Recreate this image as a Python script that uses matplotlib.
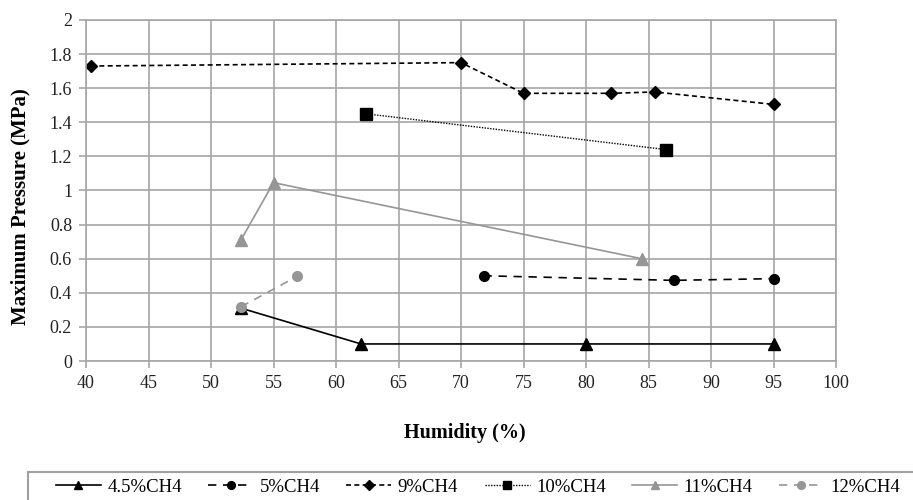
import matplotlib
matplotlib.use("Agg")
import matplotlib.pyplot as plt
from matplotlib.patches import Rectangle

x45 = [52.4, 62.0, 80.0, 95.0]
y45 = [0.31, 0.10, 0.10, 0.10]
x5 = [71.8, 87.0, 95.0]
y5 = [0.50, 0.473, 0.483]
x9 = [40.4, 70.0, 75.0, 82.0, 85.5, 95.0]
y9 = [1.73, 1.75, 1.57, 1.57, 1.578, 1.505]
x10 = [62.4, 86.4]
y10 = [1.45, 1.24]
x11 = [52.4, 55.0, 84.45]
y11 = [0.71, 1.046, 0.60]
x12 = [52.4, 56.9]
y12 = [0.318, 0.497]

labels = ["4.5%CH4", "5%CH4", "9%CH4", "10%CH4", "11%CH4", "12%CH4"]
xticks = [40, 45, 50, 55, 60, 65, 70, 75, 80, 85, 90, 95, 100]
yticks = [0, 0.2, 0.4, 0.6, 0.8, 1, 1.2, 1.4, 1.6, 1.8, 2]
yticklabels = ["0", "0.2", "0.4", "0.6", "0.8", "1", "1.2", "1.4", "1.6", "1.8", "2"]

plt.rcParams['font.family'] = ['Liberation Serif', 'DejaVu Serif']

fig = plt.figure(figsize=(9.13, 5.0), dpi=100)
ax = fig.add_axes([86/913, 1-361/500, 750/913, 341/500])

grid_c = '#a6a6a6'
ax.plot(x45, y45, color='black', lw=1.2, ls='-', marker='^', ms=8, label=labels[0])
ax.plot(x5, y5, color='black', lw=1.2, ls=(0, (5, 4)), marker='o', ms=7, label=labels[1])
ax.plot(x9, y9, color='black', lw=1.2, ls=(0, (3, 2)), marker='D', ms=6.5, label=labels[2])
ax.plot(x10, y10, color='black', lw=1.0, ls=(0, (1, 1)), marker='s', ms=8, label=labels[3])
ax.plot(x11, y11, color='#969696', lw=1.2, ls='-', marker='^', ms=8, label=labels[4])
ax.plot(x12, y12, color='#969696', lw=1.2, ls=(0, (5, 4)), marker='o', ms=7, label=labels[5])

ax.set_xlim(40, 100)
ax.set_ylim(0, 2)
ax.set_xticks(xticks)
ax.set_yticks(yticks)
ax.set_yticklabels(yticklabels)
ax.grid(True, color=grid_c, lw=1.2)
ax.set_axisbelow(True)
for s in ax.spines.values():
    s.set_color(grid_c)
    s.set_linewidth(1.2)
ax.tick_params(axis='both', colors=grid_c, labelcolor='#222222', labelsize=13, length=5, width=1.2)
ax.tick_params(axis='y', pad=5)
ax.tick_params(axis='x', pad=5)

fig.text(20/913, 1-207/500, "Maximum Pressure (MPa)", fontsize=15, fontweight='bold',
         rotation=90, ha='center', va='center')
fig.text(465/913, 1-433/500, "Humidity (%)", fontsize=14.5, fontweight='bold', ha='center', va='center')

rect = Rectangle((28/913, -0.05), 920/913, (500-472)/500 + 0.05, transform=fig.transFigure,
                 fill=False, edgecolor='#a0a0a0', lw=1.5)
fig.patches.append(rect)
h, l = ax.get_legend_handles_labels()
fig.legend(h, l, loc='center', bbox_to_anchor=(478/913, 1-487/500), ncol=6, frameon=False,
           fontsize=13.5, handlelength=2.4, columnspacing=1.4, handletextpad=0.35, markerscale=0.8)

fig.savefig("out.png", dpi=100)
